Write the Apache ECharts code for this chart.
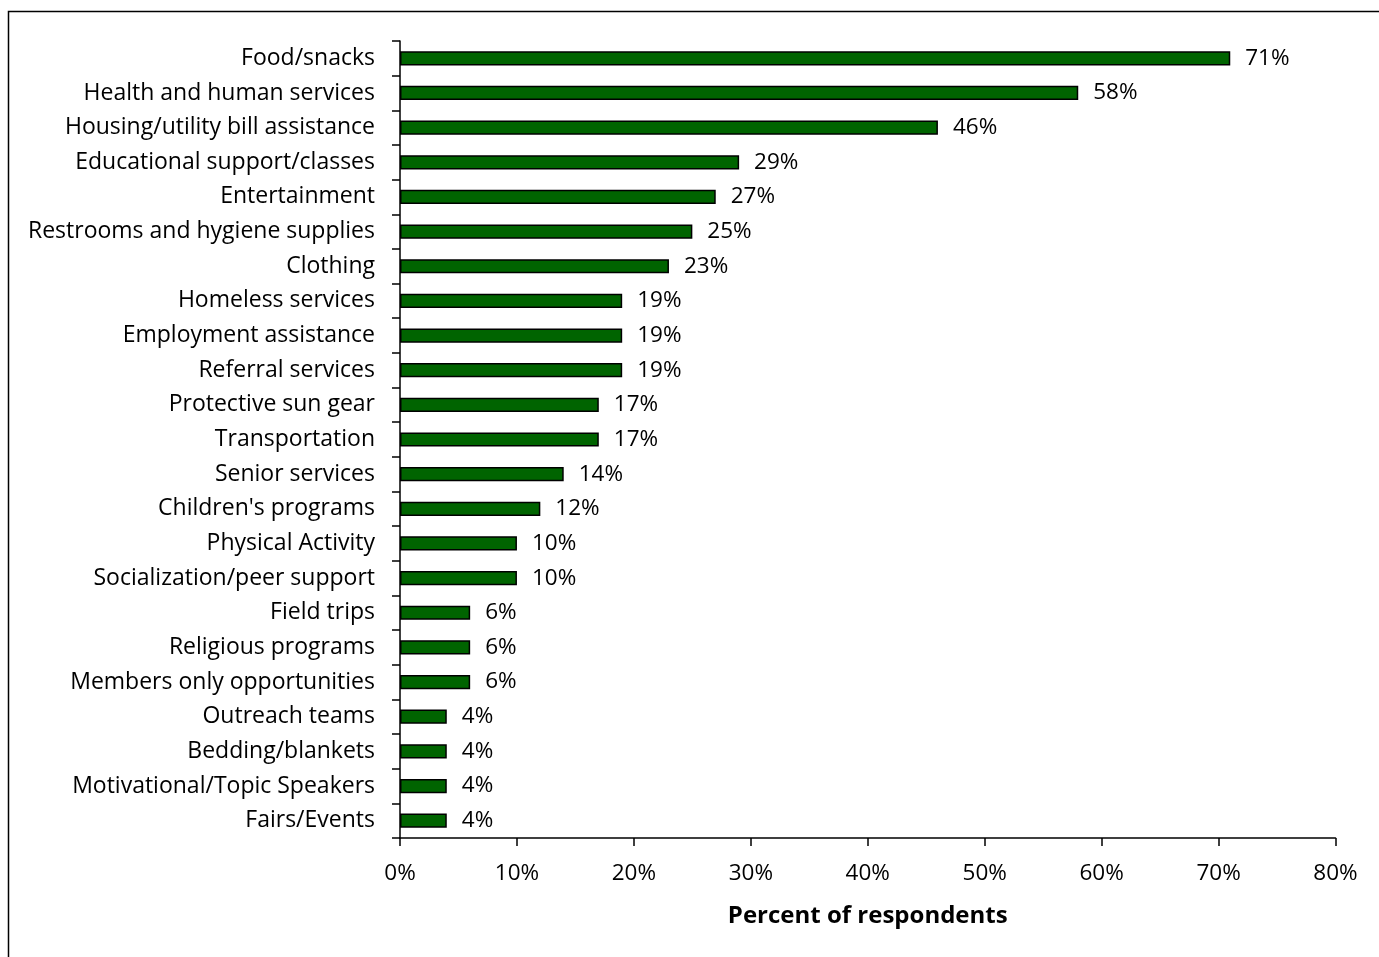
<!DOCTYPE html>
<html>
<head>
<meta charset="utf-8">
<script src="https://cdn.jsdelivr.net/npm/echarts@6/dist/echarts.min.js"></script>
<style>
  html, body { margin: 0; padding: 0; background: #fff; }
  #chart { width: 1379px; height: 957px; }
</style>
</head>
<body>
<div id="chart"></div>
<script>
// Services respondents reported using (share of respondents, %)
const categories = [
  "Food/snacks",
  "Health and human services",
  "Housing/utility bill assistance",
  "Educational support/classes",
  "Entertainment",
  "Restrooms and hygiene supplies",
  "Clothing",
  "Homeless services",
  "Employment assistance",
  "Referral services",
  "Protective sun gear",
  "Transportation",
  "Senior services",
  "Children's programs",
  "Physical Activity",
  "Socialization/peer support",
  "Field trips",
  "Religious programs",
  "Members only opportunities",
  "Outreach teams",
  "Bedding/blankets",
  "Motivational/Topic Speakers",
  "Fairs/Events"
];
const percentValues = [71, 58, 46, 29, 27, 25, 23, 19, 19, 19, 17, 17, 14, 12, 10, 10, 6, 6, 6, 4, 4, 4, 4];
const axisTicks = [0, 10, 20, 30, 40, 50, 60, 70, 80];

const FONT = "'Open Sans', sans-serif";
const chart = echarts.init(document.getElementById('chart'), null, { renderer: 'canvas' });

chart.setOption({
  backgroundColor: '#ffffff',
  animation: false,
  graphic: [{
    type: 'rect',
    shape: { x: 8.5, y: 11.5, width: 1500, height: 1100 },
    style: { fill: 'none', stroke: '#000', lineWidth: 1.5 },
    silent: true
  }],
  grid: { left: 400, right: 43.5, top: 41, bottom: 119, containLabel: false },
  xAxis: {
    type: 'value',
    min: axisTicks[0],
    max: axisTicks[axisTicks.length - 1],
    interval: axisTicks[1] - axisTicks[0],
    splitLine: { show: false },
    axisLine: { show: true, lineStyle: { color: '#000', width: 1.5 } },
    axisTick: { show: true, length: 8, lineStyle: { color: '#000', width: 1.5 } },
    axisLabel: { color: '#000', fontSize: 22.5, fontFamily: FONT, margin: 24, formatter: v => v + '%' },
    name: 'Percent of respondents',
    nameLocation: 'middle',
    nameGap: 66,
    nameTextStyle: { color: '#000', fontSize: 24, fontWeight: 'bold', fontFamily: FONT }
  },
  yAxis: {
    type: 'category',
    data: categories,
    inverse: true,
    axisLine: { show: true, lineStyle: { color: '#000', width: 1.5 } },
    axisTick: { show: true, inside: false, length: 8, alignWithLabel: false, lineStyle: { color: '#000', width: 1.5 } },
    axisLabel: { color: '#000', fontSize: 23, fontFamily: FONT, margin: 25, padding: [6, 0, 0, 0] }
  },
  series: [{
    type: 'bar',
    data: percentValues,
    barWidth: '41%',
    itemStyle: { color: '#006400', borderColor: '#000', borderWidth: 1.5 },
    label: {
      show: true,
      position: 'right',
      distance: 15,
      color: '#000',
      fontSize: 22.5,
      fontFamily: FONT,
      padding: [6, 0, 0, 0],
      formatter: p => p.value + '%'
    }
  }]
});
</script>
</body>
</html>
